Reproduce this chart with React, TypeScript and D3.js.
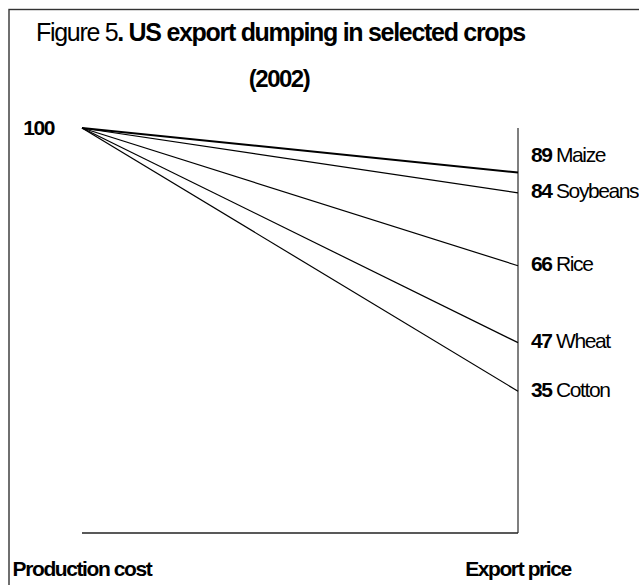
import React from "react";
import * as d3 from "d3";

const crops = ["Maize", "Soybeans", "Rice", "Wheat", "Cotton"];
const exportPrice = [89, 84, 66, 47, 35];
const productionCost = 100;
const xCategories = ["Production cost", "Export price"];
const titleRegular = "Figure 5";
const titleBold = ". US export dumping in selected crops";
const titleLine2 = "(2002)";

const W = 639;
const H = 585;
const FONT = "'Liberation Sans', Arial, sans-serif";

export default function App() {
  const x = d3.scalePoint<string>().domain(xCategories).range([82, 518]);
  const y = d3.scaleLinear().domain([0, 100]).range([533, 128]);
  const x0 = x(xCategories[0])!;
  const x1 = x(xCategories[1])!;
  const line = d3.line<[number, number]>().x((d) => d[0]).y((d) => d[1]);

  return (
    <svg
      width={W}
      height={H}
      style={{ position: "absolute", left: 0, top: 0, background: "#fff" }}
      fontFamily={FONT}
    >
      <rect x={9} y={9.5} width={W + 20} height={H + 20} fill="none" stroke="#333" strokeWidth={1.4} />
      {/* title */}
      <text x={36} y={41} fontSize={25} style={{ letterSpacing: "-1.3px" }}>
        <tspan>{titleRegular}</tspan>
        <tspan fontWeight="bold">{titleBold}</tspan>
      </text>
      <text x={279} y={87} fontSize={24} fontWeight="bold" textAnchor="middle" style={{ letterSpacing: "-1.5px" }}>
        {titleLine2}
      </text>
      {/* axes */}
      <line x1={x1} x2={x1} y1={y(100)} y2={y(0)} stroke="#555" strokeWidth={1.5} />
      <line x1={x0} x2={x1} y1={y(0)} y2={y(0)} stroke="#222" strokeWidth={1.4} />
      {/* lines */}
      {crops.map((c, i) => (
        <path
          key={c}
          d={line([
            [x0, y(productionCost)],
            [x1, y(exportPrice[i])],
          ])!}
          stroke="#000"
          strokeWidth={i === 0 ? 2 : 1.2}
          fill="none"
        />
      ))}
      {/* start label */}
      <text x={x0 - 28} y={y(productionCost) + 7} fontSize={21} fontWeight="bold" textAnchor="end" style={{ letterSpacing: "-1.4px" }}>
        {productionCost}
      </text>
      {/* end labels */}
      {crops.map((c, i) => (
        <text
          key={c}
          x={x1 + 13}
          y={y(exportPrice[i]) + (i === 0 ? -10.5 : 5.5)}
          fontSize={21}
          style={{ letterSpacing: "-1.4px" }}
        >
          <tspan fontWeight="bold">{exportPrice[i]}</tspan>
          <tspan> {c}</tspan>
        </text>
      ))}
      {/* x labels */}
      {xCategories.map((c) => (
        <text key={c} x={x(c)!} y={576} fontSize={21} fontWeight="bold" textAnchor="middle" style={{ letterSpacing: "-1.4px" }}>
          {c}
        </text>
      ))}
    </svg>
  );
}
